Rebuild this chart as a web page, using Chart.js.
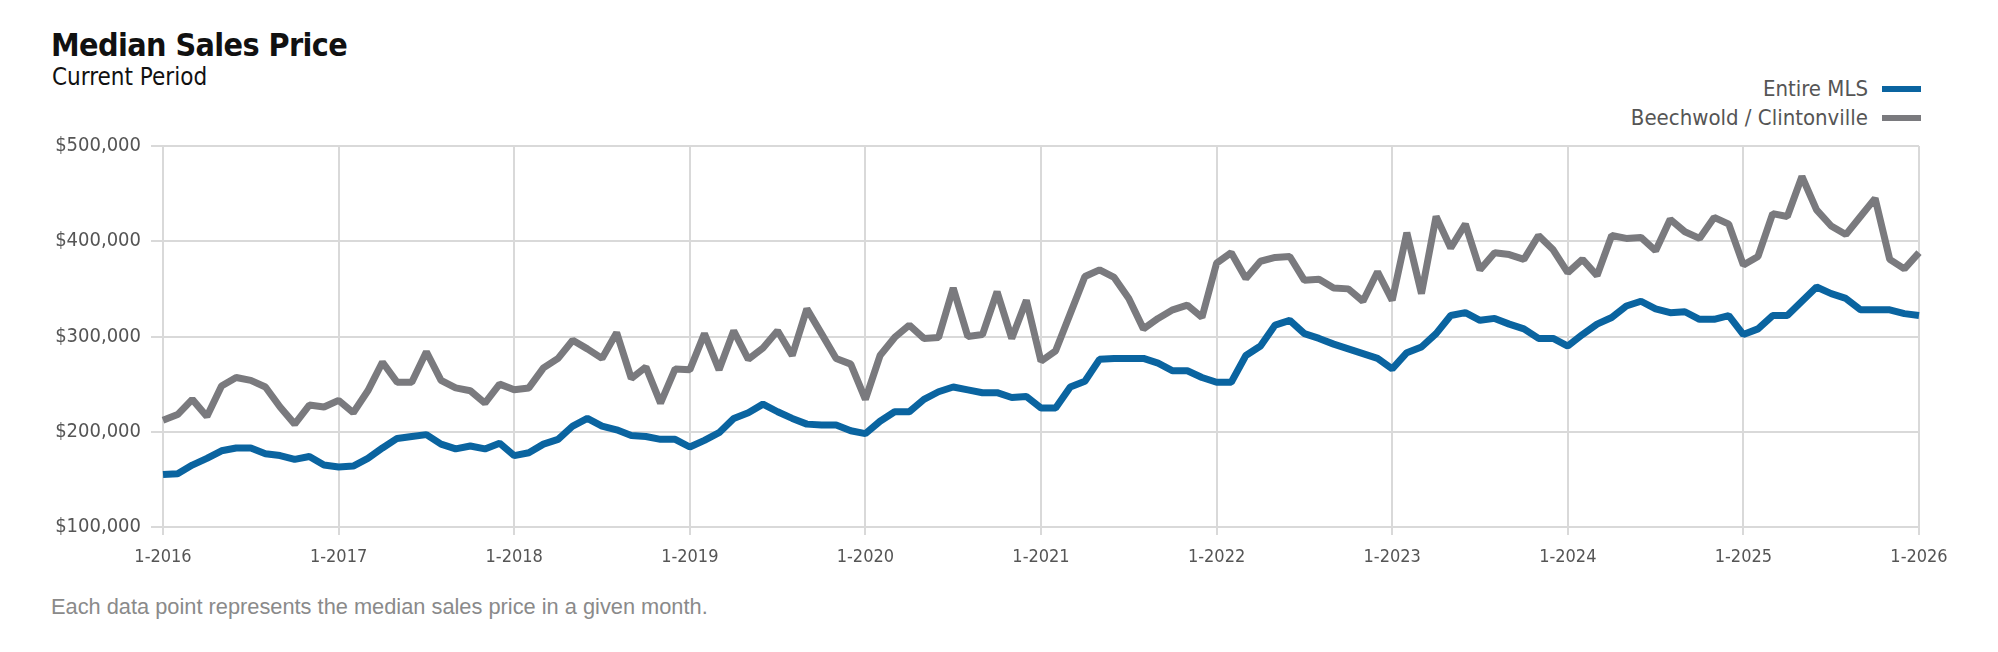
<!DOCTYPE html>
<html>
<head>
<meta charset="utf-8">
<script src="https://cdn.jsdelivr.net/npm/chart.js@4.4.1/dist/chart.umd.min.js"></script>
<style>
    body { margin: 0; background: #fff; width: 1998px; height: 652px; overflow: hidden; position: relative; font-family: "DejaVu Sans Condensed", "Liberation Sans", sans-serif; }
    #title { position: absolute; left: 51px; top: 27px; font-size: 32px; font-weight: bold; color: #111; line-height: 36px; letter-spacing: -0.6px; }
    #subtitle { position: absolute; left: 52px; top: 63px; font-size: 24px; color: #111; line-height: 28px; }
    #legend { position: absolute; right: 77px; top: 74px; font-size: 22px; color: #555; }
    .legend-row { display: flex; justify-content: flex-end; align-items: center; height: 29px; }
    .legend-swatch { width: 39px; height: 6px; margin-left: 14px; }
    #chartWrap { position: absolute; left: 0; top: 124px; width: 1998px; height: 453px; }
    #footer { position: absolute; left: 51px; top: 594px; font-family: "Liberation Sans", sans-serif; font-size: 21.8px; color: #8a8a8a; }
</style>
</head>
<body>
<div id="title">Median Sales Price</div>
<div id="subtitle">Current Period</div>
<div id="legend"></div>
<div id="chartWrap"><canvas id="priceChart"></canvas></div>
<div id="footer">Each data point represents the median sales price in a given month.</div>

<script>
// monthly median sales price, in thousands of dollars, Jan 2016 .. Jan 2026
const years = [2016, 2017, 2018, 2019, 2020, 2021, 2022, 2023, 2024, 2025, 2026];

const entireMls = [
    155, 156, 165, 172, 180, 183, 183, 177, 175, 171, 174, 165,
    163, 164, 172, 183, 193, 195, 197, 187, 182, 185, 182, 188,
    175, 178, 187, 192, 206, 214, 206, 202, 196, 195, 192, 192,
    184, 191, 199, 214, 220, 229, 221, 214, 208, 207, 207, 201,
    198, 211, 221, 221, 234, 242, 247, 244, 241, 241, 236, 237,
    225, 225, 247, 253, 276, 277, 277, 277, 272, 264, 264, 257,
    252, 252, 280, 290, 312, 317, 303, 298, 292, 287, 282, 277,
    266, 283, 289, 303, 322, 325, 317, 319, 313, 308, 298, 298,
    290, 302, 313, 320, 332, 337, 329, 325, 326, 318, 318, 322,
    302, 308, 322, 322, 337, 352, 345, 340, 328, 328, 328, 324,
    322
];

const beechwold = [
    212, 218, 234, 216, 248, 257, 254, 247, 226, 208, 228, 226,
    233, 220, 243, 273, 252, 252, 284, 254, 246, 243, 230, 250,
    244, 246, 267, 277, 296, 287, 277, 304, 256, 268, 230, 266,
    265, 303, 265, 306, 276, 288, 306, 280, 329, 303, 277, 271,
    234, 280, 299, 312, 298, 299, 351, 300, 302, 347, 298, 338,
    274, 285, 324, 363, 370, 362, 340, 308, 319, 328, 333, 320,
    377, 388, 361, 379, 383, 384, 359, 360, 351, 350, 337, 368,
    338, 409, 345, 426, 393, 418, 370, 388, 386, 381, 406, 391,
    367, 381, 364, 406, 403, 404, 390, 423, 410, 403, 425, 418,
    375, 384, 429, 426, 468, 433, 416, 407, 426, 445, 381, 371,
    388
];

const seriesNames = ['Entire MLS', 'Beechwold / Clintonville'];
const seriesColors = ['#0a64a0', '#7a7a7e'];
const yTicks = [100000, 200000, 300000, 400000, 500000];

// month labels like "1-2016"
const monthLabels = [];
years.forEach(y => {
    const last = y === 2026 ? 1 : 12;
    for (let m = 1; m <= last; m++) monthLabels.push(m + '-' + y);
});

const isJan = i => monthLabels[i] && monthLabels[i].startsWith('1-');

// legend
const legend = document.getElementById('legend');
seriesNames.forEach((name, i) => {
    const row = document.createElement('div');
    row.className = 'legend-row';
    row.innerHTML = `<span>${name}</span><span class="legend-swatch" style="background:${seriesColors[i]}"></span>`;
    legend.appendChild(row);
});

const fontFamily = '"DejaVu Sans Condensed", "Liberation Sans", sans-serif';

new Chart(document.getElementById('priceChart'), {
    type: 'line',
    data: {
        labels: monthLabels,
        datasets: [
            {
                label: seriesNames[1],
                data: beechwold.map(v => v * 1000),
                borderColor: seriesColors[1],
                borderWidth: 7,
                borderJoinStyle: 'bevel',
                pointRadius: 0,
                tension: 0
            },
            {
                label: seriesNames[0],
                data: entireMls.map(v => v * 1000),
                borderColor: seriesColors[0],
                borderWidth: 7,
                borderJoinStyle: 'bevel',
                pointRadius: 0,
                tension: 0
            }
        ]
    },
    options: {
        responsive: true,
        maintainAspectRatio: false,
        animation: false,
        layout: { padding: { left: 0, right: 79, top: 8, bottom: 0 } },
        plugins: {
            legend: { display: false },
            tooltip: { enabled: false }
        },
        scales: {
            x: {
                offset: false,
                border: { display: false },
                grid: {
                    color: c => isJan(c.index) ? '#d9d9d9' : 'rgba(0,0,0,0)',
                    lineWidth: 2,
                    tickLength: 8
                },
                ticks: {
                    autoSkip: false,
                    maxRotation: 0,
                    color: '#555',
                    font: { family: fontFamily, size: 18 },
                    padding: 12,
                    callback: (v, i) => isJan(i) ? monthLabels[i] : ''
                },
                afterFit: scale => { scale.height = 50; }
            },
            y: {
                min: 100000,
                max: 500000,
                border: { display: false },
                grid: { color: '#d9d9d9', lineWidth: 2, tickLength: 12 },
                ticks: {
                    stepSize: 100000,
                    color: '#555',
                    font: { family: fontFamily, size: 20 },
                    padding: 10,
                    callback: v => yTicks.includes(v) ? '$' + v.toLocaleString('en-US') : ''
                },
                afterFit: scale => { scale.width = 163; }
            }
        }
    }
});
</script>
</body>
</html>
